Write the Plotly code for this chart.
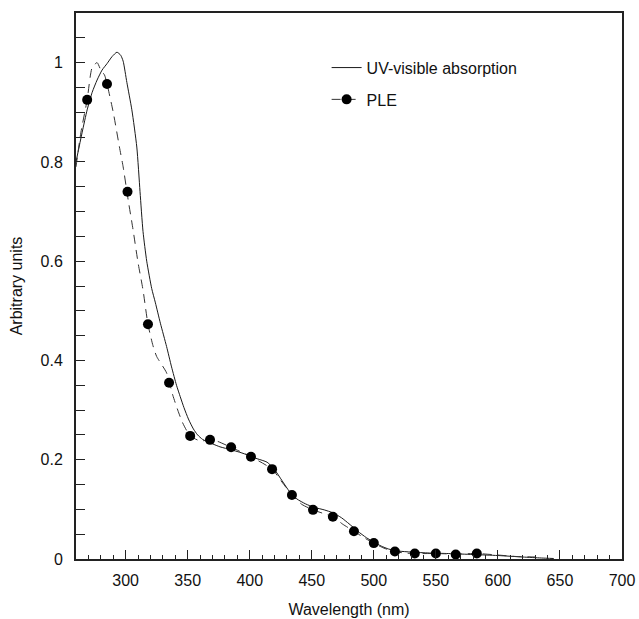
import plotly.graph_objects as go

# UV-visible absorption (solid line)
uv_nm = [260, 265, 269, 273, 277, 281, 285, 289, 293, 296, 298, 301, 305, 309, 311.6, 314, 317, 321,
         324, 328, 333, 337, 341, 344, 347, 350.6, 354.6, 358, 362, 370, 376, 385, 392, 400, 406, 414,
         420, 426, 432, 438, 445, 452, 460, 467, 474, 480, 487, 494, 500, 506, 512, 520, 530, 545, 560,
         580, 600, 620, 635, 645]
uv_val = [0.80, 0.86, 0.905, 0.94, 0.965, 0.985, 0.998, 1.012, 1.021, 1.015, 1.003, 0.96, 0.905, 0.83,
          0.74, 0.66, 0.600, 0.545, 0.516, 0.475, 0.428, 0.387, 0.35, 0.327, 0.305, 0.282, 0.262, 0.25,
          0.241, 0.232, 0.226, 0.220, 0.215, 0.208, 0.202, 0.195, 0.180, 0.158, 0.136, 0.121, 0.111,
          0.104, 0.099, 0.093, 0.083, 0.071, 0.056, 0.043, 0.034, 0.026, 0.020, 0.016, 0.014, 0.012,
          0.011, 0.009, 0.007, 0.004, 0.002, 0.001]

# PLE dashed curve
ple_curve_nm = [260, 264, 269, 273, 277, 280, 283, 285, 290, 295, 298, 302, 306, 310, 314, 318, 322, 325,
                333, 338, 342, 346, 352, 360, 368, 373, 385, 401, 418, 426, 434, 442, 451, 459, 467, 475,
                484, 492, 500, 508, 517, 525, 533, 550, 566, 583, 600, 615, 630]
ple_curve_val = [0.79, 0.86, 0.925, 0.99, 1.0, 0.985, 0.975, 0.957, 0.90, 0.83, 0.79, 0.724, 0.663, 0.597,
                 0.542, 0.473, 0.43, 0.408, 0.375, 0.33, 0.30, 0.274, 0.248, 0.238, 0.240, 0.238, 0.225,
                 0.206, 0.181, 0.155, 0.129, 0.11, 0.099, 0.092, 0.085, 0.07, 0.056, 0.043, 0.032, 0.022,
                 0.015, 0.012, 0.011, 0.011, 0.010, 0.011, 0.008, 0.005, 0.004]

# PLE measured points (markers)
ple_nm = [269, 285, 301.5, 318, 335, 352, 368, 385, 401, 418, 434, 451, 467, 484, 500, 517, 533, 550, 566, 583]
ple_val = [0.925, 0.957, 0.740, 0.473, 0.355, 0.248, 0.240, 0.225, 0.206, 0.181, 0.129, 0.099, 0.085,
           0.056, 0.032, 0.015, 0.011, 0.011, 0.009, 0.011]

FONT = "Liberation Sans, Arial, sans-serif"
DARK = "#222222"

fig = go.Figure()
fig.add_trace(go.Scatter(x=uv_nm, y=uv_val, mode="lines", name="UV-visible absorption",
                         line=dict(color="#1a1a1a", width=1, shape="spline", smoothing=0.6),
                         legendgroup="uv"))
fig.add_trace(go.Scatter(x=ple_curve_nm, y=ple_curve_val, mode="lines", showlegend=False,
                         line=dict(color="#333333", width=1, dash="9px,6px", shape="spline", smoothing=0.6)))
fig.add_trace(go.Scatter(x=ple_nm, y=ple_val, mode="markers", showlegend=False,
                         marker=dict(color="black", size=10)))
fig.add_trace(go.Scatter(x=[None], y=[None], mode="lines+markers", name="PLE",
                         line=dict(color="#333333", width=1, dash="9px,6px"),
                         marker=dict(color="black", size=10), legendgroup="ple"))

fig.update_layout(
    width=639, height=619,
    margin=dict(l=76, r=17, t=13, b=60, autoexpand=False),
    paper_bgcolor="white", plot_bgcolor="white",
    font=dict(family=FONT, size=16, color="#111111"),
    showlegend=True,
    legend=dict(x=0.459, y=0.931, xanchor="left", yanchor="top", bgcolor="rgba(0,0,0,0)",
                font=dict(size=16), traceorder="grouped", tracegroupgap=8),
    xaxis=dict(range=[260, 700], showgrid=False, zeroline=False, automargin=False,
               showline=True, linecolor=DARK, linewidth=2, mirror=True,
               ticks="inside", ticklen=9, tickwidth=1, tickcolor=DARK,
               tick0=300, dtick=50, ticklabelstandoff=6,
               minor=dict(dtick=10, ticks="inside", ticklen=4, tickwidth=1, tickcolor=DARK),
               title=dict(text="Wavelength (nm)", standoff=16, font=dict(size=16))),
    yaxis=dict(range=[0, 1.1], showgrid=False, zeroline=False, automargin=False,
               showline=True, linecolor=DARK, linewidth=2, mirror=True,
               ticks="inside", ticklen=9, tickwidth=1, tickcolor=DARK,
               tick0=0, dtick=0.2, ticklabelstandoff=8,
               minor=dict(dtick=0.05, ticks="inside", ticklen=9, tickwidth=1, tickcolor=DARK),
               title=dict(text="Arbitrary units", standoff=14, font=dict(size=16))),
)

fig.write_html("out.html", config={"displayModeBar": False},
               post_script="document.body.style.margin='0';document.documentElement.style.overflow='hidden';")
